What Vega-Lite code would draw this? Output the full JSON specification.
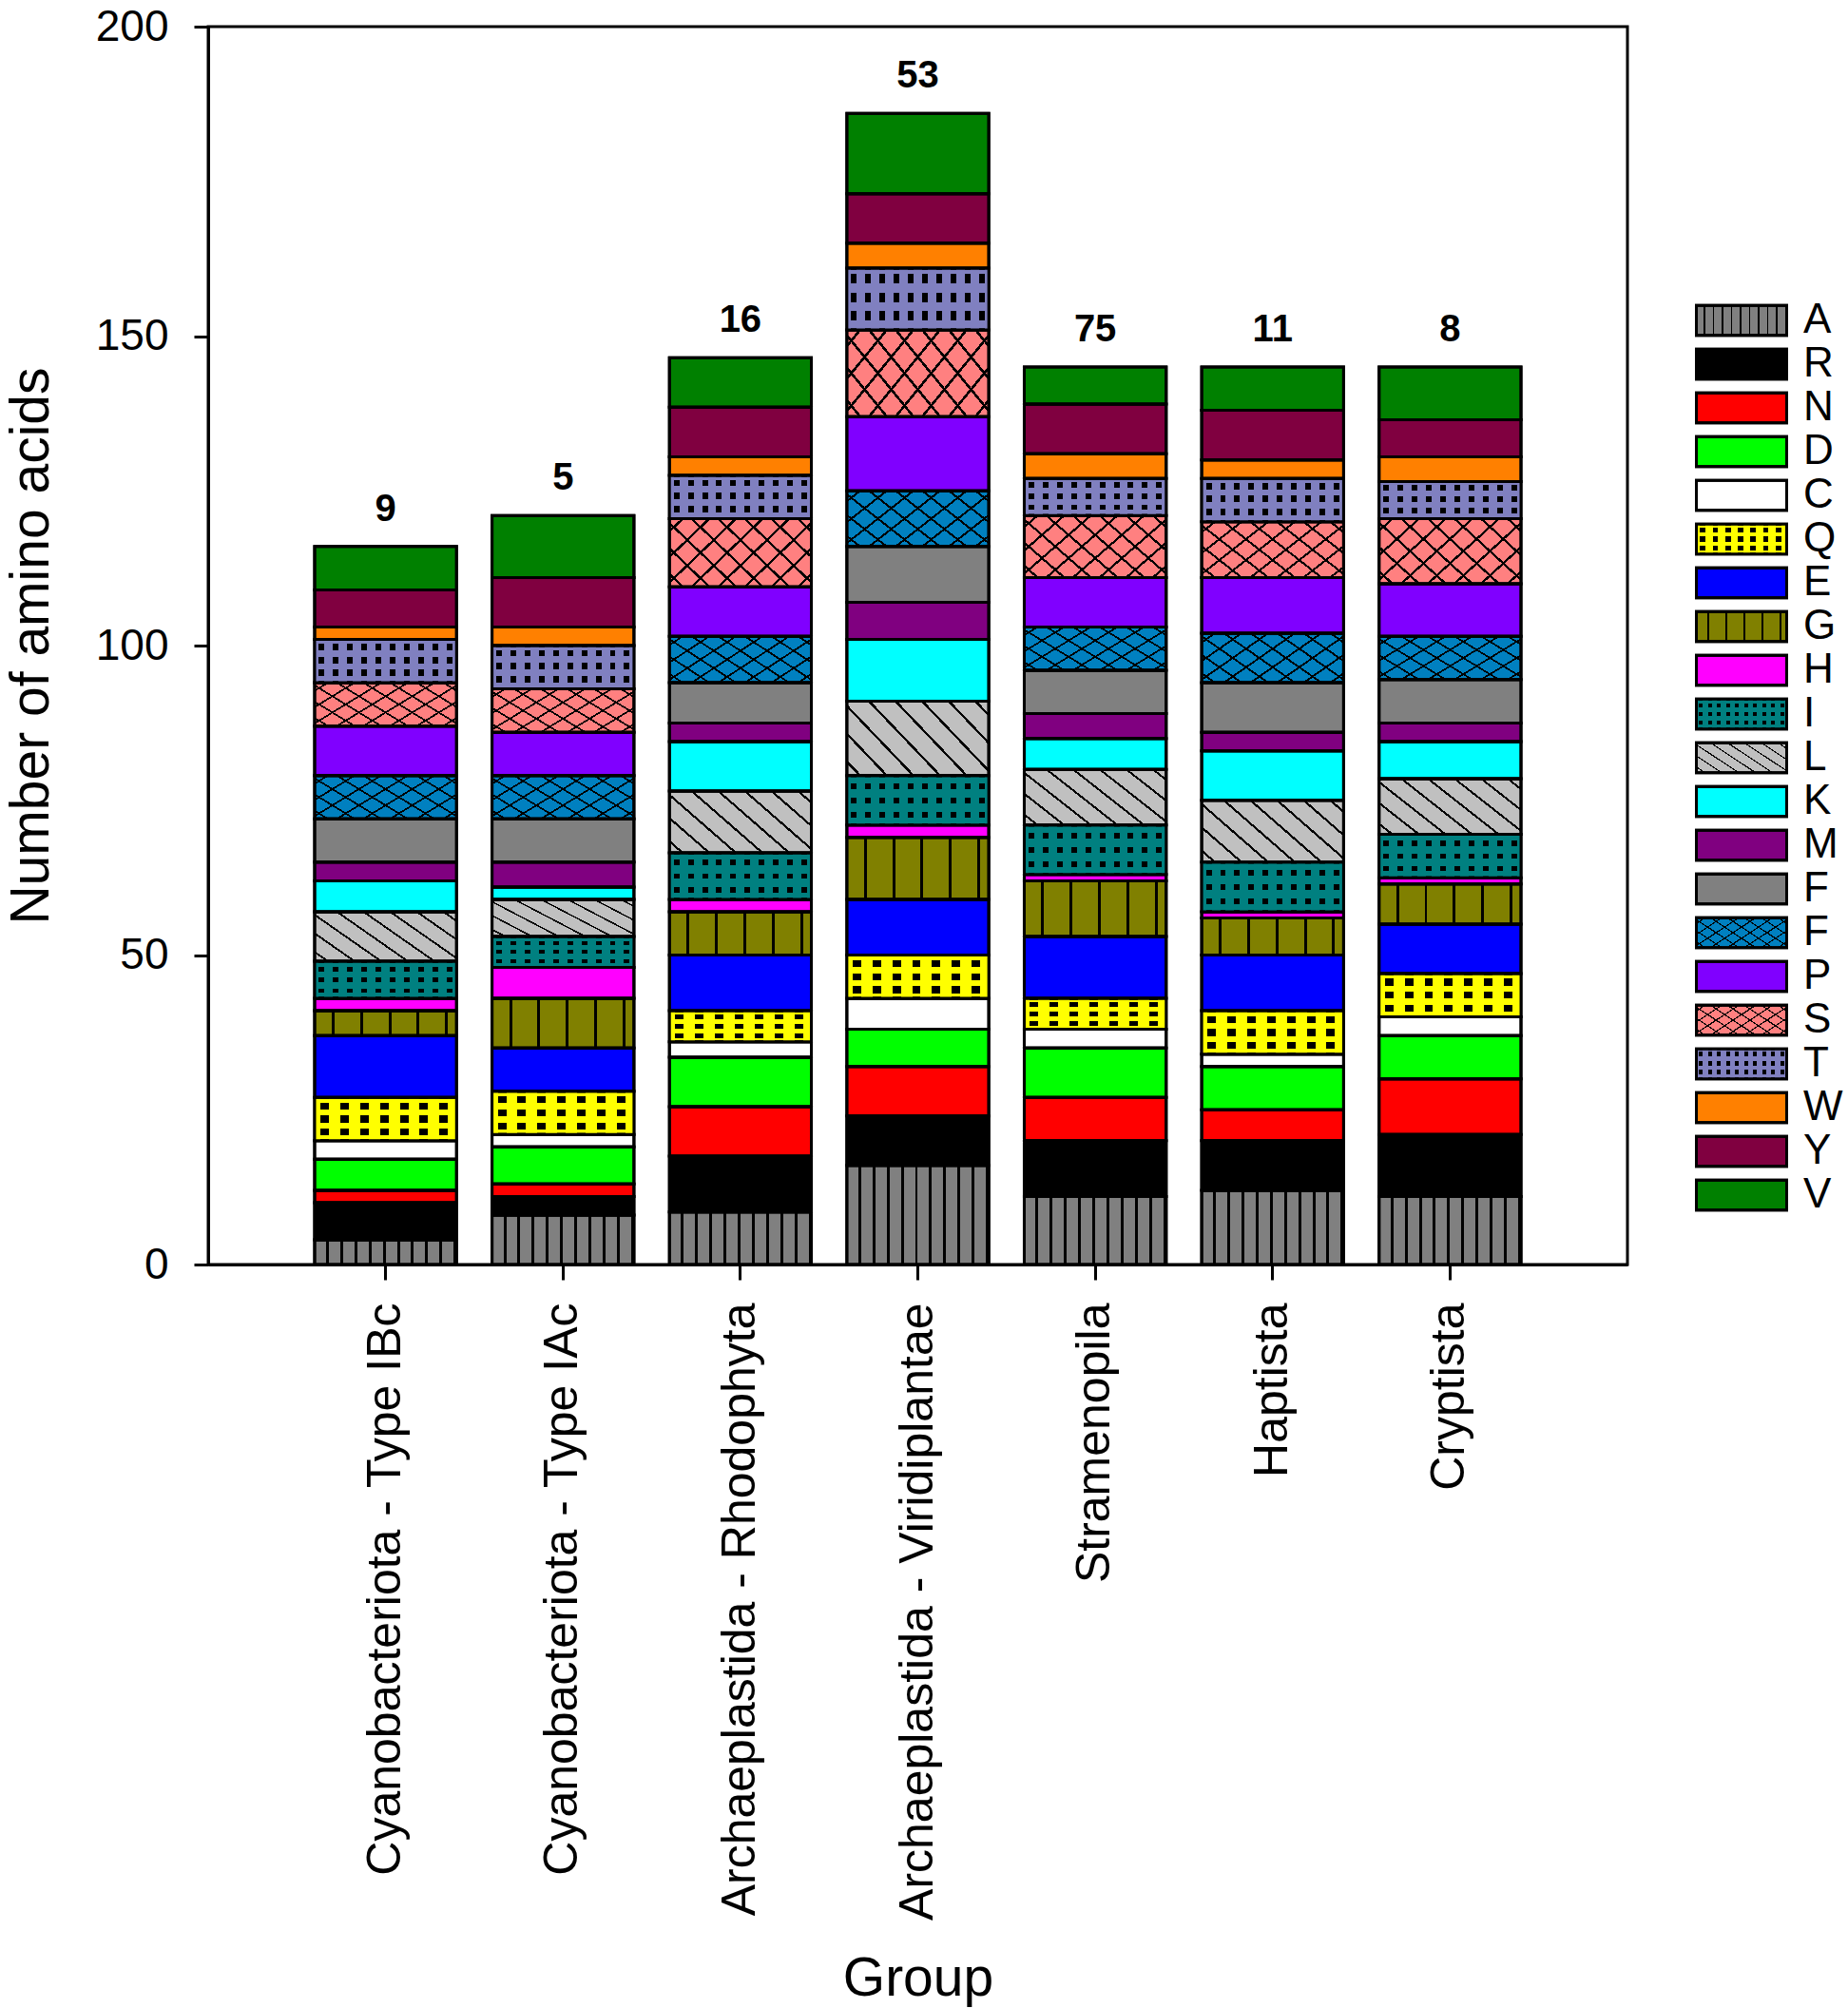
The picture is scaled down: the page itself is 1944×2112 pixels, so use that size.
{
  "$schema": "https://vega.github.io/schema/vega-lite/v6.json",
  "width": 1493,
  "height": 1302,
  "autosize": {"type": "none"},
  "padding": {"left": 219, "top": 28, "right": 232, "bottom": 782},
  "background": "white",
  "config": {
    "view": {"stroke": "black", "strokeWidth": 3},
    "font": "Liberation Sans",
    "axis": {
      "domainColor": "black", "domainWidth": 3, "tickColor": "black", "tickWidth": 3,
      "grid": false, "labelFont": "Liberation Sans", "titleFont": "Liberation Sans",
      "labelColor": "black", "titleColor": "black", "titleFontWeight": "normal"
    },
    "legend": {
      "orient": "none", "legendX": 1564, "legendY": 286, "padding": 0,
      "symbolType": "M-1,-0.33H1V0.33H-1Z", "symbolSize": 9025,
      "symbolStrokeColor": "black", "symbolStrokeWidth": 3,
      "labelFont": "Liberation Sans", "labelFontSize": 44, "labelOffset": 16,
      "clipHeight": 46, "rowPadding": 0
    }
  },
  "datasets": {
    "residues": [
      {"aa": "A", "rank": 1}, {"aa": "R", "rank": 2}, {"aa": "N", "rank": 3}, {"aa": "D", "rank": 4},
      {"aa": "C", "rank": 5}, {"aa": "Q", "rank": 6}, {"aa": "E", "rank": 7}, {"aa": "G", "rank": 8},
      {"aa": "H", "rank": 9}, {"aa": "I", "rank": 10}, {"aa": "L", "rank": 11}, {"aa": "K", "rank": 12},
      {"aa": "M", "rank": 13}, {"aa": "F", "rank": 14}, {"aa": "Fb", "rank": 15}, {"aa": "P", "rank": 16},
      {"aa": "S", "rank": 17}, {"aa": "T", "rank": 18}, {"aa": "W", "rank": 19}, {"aa": "Y", "rank": 20},
      {"aa": "V", "rank": 21}
    ],
    "counts": [
      {"group": "Cyanobacteriota - Type IBc", "aa": "A", "n": 4},
      {"group": "Cyanobacteriota - Type IBc", "aa": "R", "n": 6},
      {"group": "Cyanobacteriota - Type IBc", "aa": "N", "n": 2},
      {"group": "Cyanobacteriota - Type IBc", "aa": "D", "n": 5},
      {"group": "Cyanobacteriota - Type IBc", "aa": "C", "n": 3},
      {"group": "Cyanobacteriota - Type IBc", "aa": "Q", "n": 7},
      {"group": "Cyanobacteriota - Type IBc", "aa": "E", "n": 10},
      {"group": "Cyanobacteriota - Type IBc", "aa": "G", "n": 4},
      {"group": "Cyanobacteriota - Type IBc", "aa": "H", "n": 2},
      {"group": "Cyanobacteriota - Type IBc", "aa": "I", "n": 6},
      {"group": "Cyanobacteriota - Type IBc", "aa": "L", "n": 8},
      {"group": "Cyanobacteriota - Type IBc", "aa": "K", "n": 5},
      {"group": "Cyanobacteriota - Type IBc", "aa": "M", "n": 3},
      {"group": "Cyanobacteriota - Type IBc", "aa": "F", "n": 7},
      {"group": "Cyanobacteriota - Type IBc", "aa": "Fb", "n": 7},
      {"group": "Cyanobacteriota - Type IBc", "aa": "P", "n": 8},
      {"group": "Cyanobacteriota - Type IBc", "aa": "S", "n": 7},
      {"group": "Cyanobacteriota - Type IBc", "aa": "T", "n": 7},
      {"group": "Cyanobacteriota - Type IBc", "aa": "W", "n": 2},
      {"group": "Cyanobacteriota - Type IBc", "aa": "Y", "n": 6},
      {"group": "Cyanobacteriota - Type IBc", "aa": "V", "n": 7},
      {"group": "Cyanobacteriota - Type IAc", "aa": "A", "n": 8},
      {"group": "Cyanobacteriota - Type IAc", "aa": "R", "n": 3},
      {"group": "Cyanobacteriota - Type IAc", "aa": "N", "n": 2},
      {"group": "Cyanobacteriota - Type IAc", "aa": "D", "n": 6},
      {"group": "Cyanobacteriota - Type IAc", "aa": "C", "n": 2},
      {"group": "Cyanobacteriota - Type IAc", "aa": "Q", "n": 7},
      {"group": "Cyanobacteriota - Type IAc", "aa": "E", "n": 7},
      {"group": "Cyanobacteriota - Type IAc", "aa": "G", "n": 8},
      {"group": "Cyanobacteriota - Type IAc", "aa": "H", "n": 5},
      {"group": "Cyanobacteriota - Type IAc", "aa": "I", "n": 5},
      {"group": "Cyanobacteriota - Type IAc", "aa": "L", "n": 6},
      {"group": "Cyanobacteriota - Type IAc", "aa": "K", "n": 2},
      {"group": "Cyanobacteriota - Type IAc", "aa": "M", "n": 4},
      {"group": "Cyanobacteriota - Type IAc", "aa": "F", "n": 7},
      {"group": "Cyanobacteriota - Type IAc", "aa": "Fb", "n": 7},
      {"group": "Cyanobacteriota - Type IAc", "aa": "P", "n": 7},
      {"group": "Cyanobacteriota - Type IAc", "aa": "S", "n": 7},
      {"group": "Cyanobacteriota - Type IAc", "aa": "T", "n": 7},
      {"group": "Cyanobacteriota - Type IAc", "aa": "W", "n": 3},
      {"group": "Cyanobacteriota - Type IAc", "aa": "Y", "n": 8},
      {"group": "Cyanobacteriota - Type IAc", "aa": "V", "n": 10},
      {"group": "Archaeplastida - Rhodophyta", "aa": "A", "n": 8.5},
      {"group": "Archaeplastida - Rhodophyta", "aa": "R", "n": 9},
      {"group": "Archaeplastida - Rhodophyta", "aa": "N", "n": 8},
      {"group": "Archaeplastida - Rhodophyta", "aa": "D", "n": 8},
      {"group": "Archaeplastida - Rhodophyta", "aa": "C", "n": 2.5},
      {"group": "Archaeplastida - Rhodophyta", "aa": "Q", "n": 5},
      {"group": "Archaeplastida - Rhodophyta", "aa": "E", "n": 9},
      {"group": "Archaeplastida - Rhodophyta", "aa": "G", "n": 7},
      {"group": "Archaeplastida - Rhodophyta", "aa": "H", "n": 2},
      {"group": "Archaeplastida - Rhodophyta", "aa": "I", "n": 7.5},
      {"group": "Archaeplastida - Rhodophyta", "aa": "L", "n": 10},
      {"group": "Archaeplastida - Rhodophyta", "aa": "K", "n": 8},
      {"group": "Archaeplastida - Rhodophyta", "aa": "M", "n": 3},
      {"group": "Archaeplastida - Rhodophyta", "aa": "F", "n": 6.5},
      {"group": "Archaeplastida - Rhodophyta", "aa": "Fb", "n": 7.5},
      {"group": "Archaeplastida - Rhodophyta", "aa": "P", "n": 8},
      {"group": "Archaeplastida - Rhodophyta", "aa": "S", "n": 11},
      {"group": "Archaeplastida - Rhodophyta", "aa": "T", "n": 7},
      {"group": "Archaeplastida - Rhodophyta", "aa": "W", "n": 3},
      {"group": "Archaeplastida - Rhodophyta", "aa": "Y", "n": 8},
      {"group": "Archaeplastida - Rhodophyta", "aa": "V", "n": 8},
      {"group": "Archaeplastida - Viridiplantae", "aa": "A", "n": 16},
      {"group": "Archaeplastida - Viridiplantae", "aa": "R", "n": 8},
      {"group": "Archaeplastida - Viridiplantae", "aa": "N", "n": 8},
      {"group": "Archaeplastida - Viridiplantae", "aa": "D", "n": 6},
      {"group": "Archaeplastida - Viridiplantae", "aa": "C", "n": 5},
      {"group": "Archaeplastida - Viridiplantae", "aa": "Q", "n": 7},
      {"group": "Archaeplastida - Viridiplantae", "aa": "E", "n": 9},
      {"group": "Archaeplastida - Viridiplantae", "aa": "G", "n": 10},
      {"group": "Archaeplastida - Viridiplantae", "aa": "H", "n": 2},
      {"group": "Archaeplastida - Viridiplantae", "aa": "I", "n": 8},
      {"group": "Archaeplastida - Viridiplantae", "aa": "L", "n": 12},
      {"group": "Archaeplastida - Viridiplantae", "aa": "K", "n": 10},
      {"group": "Archaeplastida - Viridiplantae", "aa": "M", "n": 6},
      {"group": "Archaeplastida - Viridiplantae", "aa": "F", "n": 9},
      {"group": "Archaeplastida - Viridiplantae", "aa": "Fb", "n": 9},
      {"group": "Archaeplastida - Viridiplantae", "aa": "P", "n": 12},
      {"group": "Archaeplastida - Viridiplantae", "aa": "S", "n": 14},
      {"group": "Archaeplastida - Viridiplantae", "aa": "T", "n": 10},
      {"group": "Archaeplastida - Viridiplantae", "aa": "W", "n": 4},
      {"group": "Archaeplastida - Viridiplantae", "aa": "Y", "n": 8},
      {"group": "Archaeplastida - Viridiplantae", "aa": "V", "n": 13},
      {"group": "Stramenopila", "aa": "A", "n": 11},
      {"group": "Stramenopila", "aa": "R", "n": 9},
      {"group": "Stramenopila", "aa": "N", "n": 7},
      {"group": "Stramenopila", "aa": "D", "n": 8},
      {"group": "Stramenopila", "aa": "C", "n": 3},
      {"group": "Stramenopila", "aa": "Q", "n": 5},
      {"group": "Stramenopila", "aa": "E", "n": 10},
      {"group": "Stramenopila", "aa": "G", "n": 9},
      {"group": "Stramenopila", "aa": "H", "n": 1},
      {"group": "Stramenopila", "aa": "I", "n": 8},
      {"group": "Stramenopila", "aa": "L", "n": 9},
      {"group": "Stramenopila", "aa": "K", "n": 5},
      {"group": "Stramenopila", "aa": "M", "n": 4},
      {"group": "Stramenopila", "aa": "F", "n": 7},
      {"group": "Stramenopila", "aa": "Fb", "n": 7},
      {"group": "Stramenopila", "aa": "P", "n": 8},
      {"group": "Stramenopila", "aa": "S", "n": 10},
      {"group": "Stramenopila", "aa": "T", "n": 6},
      {"group": "Stramenopila", "aa": "W", "n": 4},
      {"group": "Stramenopila", "aa": "Y", "n": 8},
      {"group": "Stramenopila", "aa": "V", "n": 6},
      {"group": "Haptista", "aa": "A", "n": 12},
      {"group": "Haptista", "aa": "R", "n": 8},
      {"group": "Haptista", "aa": "N", "n": 5},
      {"group": "Haptista", "aa": "D", "n": 7},
      {"group": "Haptista", "aa": "C", "n": 2},
      {"group": "Haptista", "aa": "Q", "n": 7},
      {"group": "Haptista", "aa": "E", "n": 9},
      {"group": "Haptista", "aa": "G", "n": 6},
      {"group": "Haptista", "aa": "H", "n": 1},
      {"group": "Haptista", "aa": "I", "n": 8},
      {"group": "Haptista", "aa": "L", "n": 10},
      {"group": "Haptista", "aa": "K", "n": 8},
      {"group": "Haptista", "aa": "M", "n": 3},
      {"group": "Haptista", "aa": "F", "n": 8},
      {"group": "Haptista", "aa": "Fb", "n": 8},
      {"group": "Haptista", "aa": "P", "n": 9},
      {"group": "Haptista", "aa": "S", "n": 9},
      {"group": "Haptista", "aa": "T", "n": 7},
      {"group": "Haptista", "aa": "W", "n": 3},
      {"group": "Haptista", "aa": "Y", "n": 8},
      {"group": "Haptista", "aa": "V", "n": 7},
      {"group": "Cryptista", "aa": "A", "n": 11},
      {"group": "Cryptista", "aa": "R", "n": 10},
      {"group": "Cryptista", "aa": "N", "n": 9},
      {"group": "Cryptista", "aa": "D", "n": 7},
      {"group": "Cryptista", "aa": "C", "n": 3},
      {"group": "Cryptista", "aa": "Q", "n": 7},
      {"group": "Cryptista", "aa": "E", "n": 8},
      {"group": "Cryptista", "aa": "G", "n": 6.5},
      {"group": "Cryptista", "aa": "H", "n": 1},
      {"group": "Cryptista", "aa": "I", "n": 7},
      {"group": "Cryptista", "aa": "L", "n": 9},
      {"group": "Cryptista", "aa": "K", "n": 6},
      {"group": "Cryptista", "aa": "M", "n": 3},
      {"group": "Cryptista", "aa": "F", "n": 7},
      {"group": "Cryptista", "aa": "Fb", "n": 7},
      {"group": "Cryptista", "aa": "P", "n": 8.5},
      {"group": "Cryptista", "aa": "S", "n": 10.5},
      {"group": "Cryptista", "aa": "T", "n": 6},
      {"group": "Cryptista", "aa": "W", "n": 4},
      {"group": "Cryptista", "aa": "Y", "n": 6},
      {"group": "Cryptista", "aa": "V", "n": 8.5}
    ]
  },
  "layer": [
    {
      "data": {"name": "counts"},
      "transform": [{"lookup": "aa", "from": {"data": {"name": "residues"}, "key": "aa", "fields": ["rank"]}}],
      "mark": {"type": "bar", "stroke": "black", "strokeWidth": 3},
      "encoding": {
        "x": {
          "field": "group", "type": "nominal", "title": "Group",
          "sort": ["Cyanobacteriota - Type IBc", "Cyanobacteriota - Type IAc", "Archaeplastida - Rhodophyta", "Archaeplastida - Viridiplantae", "Stramenopila", "Haptista", "Cryptista"],
          "scale": {"paddingInner": 0.2, "paddingOuter": 0.6},
          "axis": {"labelAngle": -90, "labelFontSize": 50, "labelLimit": 1000, "tickSize": 16, "labelPadding": 24, "titleFontSize": 57, "titleY": 751, "titleBaseline": "middle"}
        },
        "y": {
          "field": "n", "type": "quantitative", "title": "Number of amino acids",
          "scale": {"domain": [0, 200]},
          "axis": {"values": [0, 50, 100, 150, 200], "tickSize": 15, "labelPadding": 27, "labelFontSize": 46, "titleFontSize": 57, "titlePadding": 38}
        },
        "color": {
          "field": "aa", "type": "nominal",
          "scale": {
            "domain": ["A", "R", "N", "D", "C", "Q", "E", "G", "H", "I", "L", "K", "M", "F", "Fb", "P", "S", "T", "W", "Y", "V"],
            "range": [
              {"expr": "{gradient:'linear',x1:0,y1:0,x2:1,y2:0,stops:[{offset:0,color:'#808080'},{offset:0.08,color:'#808080'},{offset:0.08,color:'#000'},{offset:0.1,color:'#000'},{offset:0.1,color:'#808080'},{offset:0.18,color:'#808080'},{offset:0.18,color:'#000'},{offset:0.2,color:'#000'},{offset:0.2,color:'#808080'},{offset:0.28,color:'#808080'},{offset:0.28,color:'#000'},{offset:0.3,color:'#000'},{offset:0.3,color:'#808080'},{offset:0.38,color:'#808080'},{offset:0.38,color:'#000'},{offset:0.4,color:'#000'},{offset:0.4,color:'#808080'},{offset:0.48,color:'#808080'},{offset:0.48,color:'#000'},{offset:0.5,color:'#000'},{offset:0.5,color:'#808080'},{offset:0.58,color:'#808080'},{offset:0.58,color:'#000'},{offset:0.6,color:'#000'},{offset:0.6,color:'#808080'},{offset:0.68,color:'#808080'},{offset:0.68,color:'#000'},{offset:0.7,color:'#000'},{offset:0.7,color:'#808080'},{offset:0.78,color:'#808080'},{offset:0.78,color:'#000'},{offset:0.8,color:'#000'},{offset:0.8,color:'#808080'},{offset:0.88,color:'#808080'},{offset:0.88,color:'#000'},{offset:0.9,color:'#000'},{offset:0.9,color:'#808080'},{offset:0.98,color:'#808080'},{offset:0.98,color:'#000'},{offset:1,color:'#000'}]}"},
              "#000000",
              "#FF0000",
              "#00FF00",
              "#FFFFFF",
              {"expr": "{gradient:'linear',x1:0,y1:0,x2:0,y2:1,stops:[{offset:0,color:'#FFFF00'},{offset:0.12,color:'#FFFF00'},{offset:0.12,color:'#000'},{offset:0.28,color:'#000'},{offset:0.28,color:'#FFFF00'},{offset:0.42,color:'#FFFF00'},{offset:0.42,color:'#000'},{offset:0.58,color:'#000'},{offset:0.58,color:'#FFFF00'},{offset:0.72,color:'#FFFF00'},{offset:0.72,color:'#000'},{offset:0.88,color:'#000'},{offset:0.88,color:'#FFFF00'},{offset:1,color:'#FFFF00'}]}"},
              "#0000FF",
              {"expr": "{gradient:'linear',x1:0,y1:0,x2:1,y2:0,stops:[{offset:0,color:'#808000'},{offset:0.12,color:'#808000'},{offset:0.12,color:'#000'},{offset:0.14,color:'#000'},{offset:0.14,color:'#808000'},{offset:0.32,color:'#808000'},{offset:0.32,color:'#000'},{offset:0.34,color:'#000'},{offset:0.34,color:'#808000'},{offset:0.52,color:'#808000'},{offset:0.52,color:'#000'},{offset:0.54,color:'#000'},{offset:0.54,color:'#808000'},{offset:0.72,color:'#808000'},{offset:0.72,color:'#000'},{offset:0.74,color:'#000'},{offset:0.74,color:'#808000'},{offset:0.92,color:'#808000'},{offset:0.92,color:'#000'},{offset:0.94,color:'#000'},{offset:0.94,color:'#808000'},{offset:1,color:'#808000'}]}"},
              "#FF00FF",
              {"expr": "{gradient:'linear',x1:0,y1:0,x2:0,y2:1,stops:[{offset:0,color:'#008080'},{offset:0.15,color:'#008080'},{offset:0.15,color:'#000'},{offset:0.27,color:'#000'},{offset:0.27,color:'#008080'},{offset:0.44,color:'#008080'},{offset:0.44,color:'#000'},{offset:0.56,color:'#000'},{offset:0.56,color:'#008080'},{offset:0.73,color:'#008080'},{offset:0.73,color:'#000'},{offset:0.85,color:'#000'},{offset:0.85,color:'#008080'},{offset:1,color:'#008080'}]}"},
              {"expr": "{gradient:'linear',x1:0,y1:1,x2:1.2,y2:0.4,stops:[{offset:0,color:'#C0C0C0'},{offset:0.055,color:'#C0C0C0'},{offset:0.055,color:'#000'},{offset:0.07,color:'#000'},{offset:0.07,color:'#C0C0C0'},{offset:0.18,color:'#C0C0C0'},{offset:0.18,color:'#000'},{offset:0.195,color:'#000'},{offset:0.195,color:'#C0C0C0'},{offset:0.305,color:'#C0C0C0'},{offset:0.305,color:'#000'},{offset:0.32,color:'#000'},{offset:0.32,color:'#C0C0C0'},{offset:0.43,color:'#C0C0C0'},{offset:0.43,color:'#000'},{offset:0.445,color:'#000'},{offset:0.445,color:'#C0C0C0'},{offset:0.555,color:'#C0C0C0'},{offset:0.555,color:'#000'},{offset:0.57,color:'#000'},{offset:0.57,color:'#C0C0C0'},{offset:0.68,color:'#C0C0C0'},{offset:0.68,color:'#000'},{offset:0.695,color:'#000'},{offset:0.695,color:'#C0C0C0'},{offset:0.805,color:'#C0C0C0'},{offset:0.805,color:'#000'},{offset:0.82,color:'#000'},{offset:0.82,color:'#C0C0C0'},{offset:0.93,color:'#C0C0C0'},{offset:0.93,color:'#000'},{offset:0.945,color:'#000'},{offset:0.945,color:'#C0C0C0'},{offset:1,color:'#C0C0C0'}]}"},
              "#00FFFF",
              "#800080",
              "#808080",
              {"expr": "{gradient:'linear',x1:0,y1:1,x2:1.2,y2:0.4,stops:[{offset:0,color:'#0080C0'},{offset:0.055,color:'#0080C0'},{offset:0.055,color:'#000'},{offset:0.07,color:'#000'},{offset:0.07,color:'#0080C0'},{offset:0.18,color:'#0080C0'},{offset:0.18,color:'#000'},{offset:0.195,color:'#000'},{offset:0.195,color:'#0080C0'},{offset:0.305,color:'#0080C0'},{offset:0.305,color:'#000'},{offset:0.32,color:'#000'},{offset:0.32,color:'#0080C0'},{offset:0.43,color:'#0080C0'},{offset:0.43,color:'#000'},{offset:0.445,color:'#000'},{offset:0.445,color:'#0080C0'},{offset:0.555,color:'#0080C0'},{offset:0.555,color:'#000'},{offset:0.57,color:'#000'},{offset:0.57,color:'#0080C0'},{offset:0.68,color:'#0080C0'},{offset:0.68,color:'#000'},{offset:0.695,color:'#000'},{offset:0.695,color:'#0080C0'},{offset:0.805,color:'#0080C0'},{offset:0.805,color:'#000'},{offset:0.82,color:'#000'},{offset:0.82,color:'#0080C0'},{offset:0.93,color:'#0080C0'},{offset:0.93,color:'#000'},{offset:0.945,color:'#000'},{offset:0.945,color:'#0080C0'},{offset:1,color:'#0080C0'}]}"},
              "#8000FF",
              {"expr": "{gradient:'linear',x1:0,y1:1,x2:1.2,y2:0.4,stops:[{offset:0,color:'#FF8080'},{offset:0.055,color:'#FF8080'},{offset:0.055,color:'#000'},{offset:0.07,color:'#000'},{offset:0.07,color:'#FF8080'},{offset:0.18,color:'#FF8080'},{offset:0.18,color:'#000'},{offset:0.195,color:'#000'},{offset:0.195,color:'#FF8080'},{offset:0.305,color:'#FF8080'},{offset:0.305,color:'#000'},{offset:0.32,color:'#000'},{offset:0.32,color:'#FF8080'},{offset:0.43,color:'#FF8080'},{offset:0.43,color:'#000'},{offset:0.445,color:'#000'},{offset:0.445,color:'#FF8080'},{offset:0.555,color:'#FF8080'},{offset:0.555,color:'#000'},{offset:0.57,color:'#000'},{offset:0.57,color:'#FF8080'},{offset:0.68,color:'#FF8080'},{offset:0.68,color:'#000'},{offset:0.695,color:'#000'},{offset:0.695,color:'#FF8080'},{offset:0.805,color:'#FF8080'},{offset:0.805,color:'#000'},{offset:0.82,color:'#000'},{offset:0.82,color:'#FF8080'},{offset:0.93,color:'#FF8080'},{offset:0.93,color:'#000'},{offset:0.945,color:'#000'},{offset:0.945,color:'#FF8080'},{offset:1,color:'#FF8080'}]}"},
              {"expr": "{gradient:'linear',x1:0,y1:0,x2:0,y2:1,stops:[{offset:0,color:'#8080C0'},{offset:0.1,color:'#8080C0'},{offset:0.1,color:'#000'},{offset:0.25,color:'#000'},{offset:0.25,color:'#8080C0'},{offset:0.4,color:'#8080C0'},{offset:0.4,color:'#000'},{offset:0.55,color:'#000'},{offset:0.55,color:'#8080C0'},{offset:0.7,color:'#8080C0'},{offset:0.7,color:'#000'},{offset:0.85,color:'#000'},{offset:0.85,color:'#8080C0'},{offset:1,color:'#8080C0'}]}"},
              "#FF8000",
              "#800040",
              "#008000"
            ]
          },
          "legend": {
            "title": null,
            "labelExpr": "datum.label == 'Fb' ? 'F' : datum.label",
            "labelColor": "black",
            "encode": {"symbols": {"update": {"stroke": {"value": "black"}, "strokeWidth": {"value": 3}}}}
          }
        },
        "order": {"field": "rank", "type": "quantitative", "sort": "ascending"}
      }
    },
    {
      "data": {"name": "counts"},
      "transform": [{"lookup": "aa", "from": {"data": {"name": "residues"}, "key": "aa", "fields": ["rank"]}}],
      "mark": {"type": "bar", "stroke": "black", "strokeWidth": 3},
      "encoding": {
        "x": {"field": "group", "type": "nominal", "title": "Group", "sort": ["Cyanobacteriota - Type IBc", "Cyanobacteriota - Type IAc", "Archaeplastida - Rhodophyta", "Archaeplastida - Viridiplantae", "Stramenopila", "Haptista", "Cryptista"]},
        "y": {"field": "n", "type": "quantitative", "title": "Number of amino acids"},
        "color": {
          "field": "aa", "type": "nominal",
          "scale": {
            "domain": ["A", "R", "N", "D", "C", "Q", "E", "G", "H", "I", "L", "K", "M", "F", "Fb", "P", "S", "T", "W", "Y", "V"],
            "range": [
              "transparent", "transparent", "transparent", "transparent", "transparent",
              {"expr": "{gradient:'linear',x1:0,y1:0,x2:1,y2:0,stops:[{offset:0,color:'#FFFF00'},{offset:0.04,color:'#FFFF00'},{offset:0.04,color:'transparent'},{offset:0.1,color:'transparent'},{offset:0.1,color:'#FFFF00'},{offset:0.18,color:'#FFFF00'},{offset:0.18,color:'transparent'},{offset:0.24,color:'transparent'},{offset:0.24,color:'#FFFF00'},{offset:0.32,color:'#FFFF00'},{offset:0.32,color:'transparent'},{offset:0.38,color:'transparent'},{offset:0.38,color:'#FFFF00'},{offset:0.46,color:'#FFFF00'},{offset:0.46,color:'transparent'},{offset:0.52,color:'transparent'},{offset:0.52,color:'#FFFF00'},{offset:0.6,color:'#FFFF00'},{offset:0.6,color:'transparent'},{offset:0.66,color:'transparent'},{offset:0.66,color:'#FFFF00'},{offset:0.74,color:'#FFFF00'},{offset:0.74,color:'transparent'},{offset:0.8,color:'transparent'},{offset:0.8,color:'#FFFF00'},{offset:0.88,color:'#FFFF00'},{offset:0.88,color:'transparent'},{offset:0.94,color:'transparent'},{offset:0.94,color:'#FFFF00'},{offset:1,color:'#FFFF00'}]}"},
              "transparent", "transparent", "transparent",
              {"expr": "{gradient:'linear',x1:0,y1:0,x2:1,y2:0,stops:[{offset:0,color:'#008080'},{offset:0.03,color:'#008080'},{offset:0.03,color:'transparent'},{offset:0.07,color:'transparent'},{offset:0.07,color:'#008080'},{offset:0.13,color:'#008080'},{offset:0.13,color:'transparent'},{offset:0.17,color:'transparent'},{offset:0.17,color:'#008080'},{offset:0.23,color:'#008080'},{offset:0.23,color:'transparent'},{offset:0.27,color:'transparent'},{offset:0.27,color:'#008080'},{offset:0.33,color:'#008080'},{offset:0.33,color:'transparent'},{offset:0.37,color:'transparent'},{offset:0.37,color:'#008080'},{offset:0.43,color:'#008080'},{offset:0.43,color:'transparent'},{offset:0.47,color:'transparent'},{offset:0.47,color:'#008080'},{offset:0.53,color:'#008080'},{offset:0.53,color:'transparent'},{offset:0.57,color:'transparent'},{offset:0.57,color:'#008080'},{offset:0.63,color:'#008080'},{offset:0.63,color:'transparent'},{offset:0.67,color:'transparent'},{offset:0.67,color:'#008080'},{offset:0.73,color:'#008080'},{offset:0.73,color:'transparent'},{offset:0.77,color:'transparent'},{offset:0.77,color:'#008080'},{offset:0.83,color:'#008080'},{offset:0.83,color:'transparent'},{offset:0.87,color:'transparent'},{offset:0.87,color:'#008080'},{offset:0.93,color:'#008080'},{offset:0.93,color:'transparent'},{offset:0.97,color:'transparent'},{offset:0.97,color:'#008080'},{offset:1,color:'#008080'}]}"},
              "transparent", "transparent", "transparent", "transparent",
              {"expr": "{gradient:'linear',x1:0,y1:0,x2:1.2,y2:0.6,stops:[{offset:0,color:'transparent'},{offset:0.055,color:'transparent'},{offset:0.055,color:'#000'},{offset:0.07,color:'#000'},{offset:0.07,color:'transparent'},{offset:0.18,color:'transparent'},{offset:0.18,color:'#000'},{offset:0.195,color:'#000'},{offset:0.195,color:'transparent'},{offset:0.305,color:'transparent'},{offset:0.305,color:'#000'},{offset:0.32,color:'#000'},{offset:0.32,color:'transparent'},{offset:0.43,color:'transparent'},{offset:0.43,color:'#000'},{offset:0.445,color:'#000'},{offset:0.445,color:'transparent'},{offset:0.555,color:'transparent'},{offset:0.555,color:'#000'},{offset:0.57,color:'#000'},{offset:0.57,color:'transparent'},{offset:0.68,color:'transparent'},{offset:0.68,color:'#000'},{offset:0.695,color:'#000'},{offset:0.695,color:'transparent'},{offset:0.805,color:'transparent'},{offset:0.805,color:'#000'},{offset:0.82,color:'#000'},{offset:0.82,color:'transparent'},{offset:0.93,color:'transparent'},{offset:0.93,color:'#000'},{offset:0.945,color:'#000'},{offset:0.945,color:'transparent'},{offset:1,color:'transparent'}]}"},
              "transparent",
              {"expr": "{gradient:'linear',x1:0,y1:0,x2:1.2,y2:0.6,stops:[{offset:0,color:'transparent'},{offset:0.055,color:'transparent'},{offset:0.055,color:'#000'},{offset:0.07,color:'#000'},{offset:0.07,color:'transparent'},{offset:0.18,color:'transparent'},{offset:0.18,color:'#000'},{offset:0.195,color:'#000'},{offset:0.195,color:'transparent'},{offset:0.305,color:'transparent'},{offset:0.305,color:'#000'},{offset:0.32,color:'#000'},{offset:0.32,color:'transparent'},{offset:0.43,color:'transparent'},{offset:0.43,color:'#000'},{offset:0.445,color:'#000'},{offset:0.445,color:'transparent'},{offset:0.555,color:'transparent'},{offset:0.555,color:'#000'},{offset:0.57,color:'#000'},{offset:0.57,color:'transparent'},{offset:0.68,color:'transparent'},{offset:0.68,color:'#000'},{offset:0.695,color:'#000'},{offset:0.695,color:'transparent'},{offset:0.805,color:'transparent'},{offset:0.805,color:'#000'},{offset:0.82,color:'#000'},{offset:0.82,color:'transparent'},{offset:0.93,color:'transparent'},{offset:0.93,color:'#000'},{offset:0.945,color:'#000'},{offset:0.945,color:'transparent'},{offset:1,color:'transparent'}]}"},
              {"expr": "{gradient:'linear',x1:0,y1:0,x2:1,y2:0,stops:[{offset:0,color:'#8080C0'},{offset:0.03,color:'#8080C0'},{offset:0.03,color:'transparent'},{offset:0.07,color:'transparent'},{offset:0.07,color:'#8080C0'},{offset:0.13,color:'#8080C0'},{offset:0.13,color:'transparent'},{offset:0.17,color:'transparent'},{offset:0.17,color:'#8080C0'},{offset:0.23,color:'#8080C0'},{offset:0.23,color:'transparent'},{offset:0.27,color:'transparent'},{offset:0.27,color:'#8080C0'},{offset:0.33,color:'#8080C0'},{offset:0.33,color:'transparent'},{offset:0.37,color:'transparent'},{offset:0.37,color:'#8080C0'},{offset:0.43,color:'#8080C0'},{offset:0.43,color:'transparent'},{offset:0.47,color:'transparent'},{offset:0.47,color:'#8080C0'},{offset:0.53,color:'#8080C0'},{offset:0.53,color:'transparent'},{offset:0.57,color:'transparent'},{offset:0.57,color:'#8080C0'},{offset:0.63,color:'#8080C0'},{offset:0.63,color:'transparent'},{offset:0.67,color:'transparent'},{offset:0.67,color:'#8080C0'},{offset:0.73,color:'#8080C0'},{offset:0.73,color:'transparent'},{offset:0.77,color:'transparent'},{offset:0.77,color:'#8080C0'},{offset:0.83,color:'#8080C0'},{offset:0.83,color:'transparent'},{offset:0.87,color:'transparent'},{offset:0.87,color:'#8080C0'},{offset:0.93,color:'#8080C0'},{offset:0.93,color:'transparent'},{offset:0.97,color:'transparent'},{offset:0.97,color:'#8080C0'},{offset:1,color:'#8080C0'}]}"},
              "transparent", "transparent", "transparent"
            ]
          },
          "legend": {
            "title": null,
            "labelExpr": "''",
            "labelColor": "transparent",
            "encode": {"symbols": {"update": {"stroke": {"value": "black"}, "strokeWidth": {"value": 3}}}}
          }
        },
        "order": {"field": "rank", "type": "quantitative", "sort": "ascending"}
      }
    },
    {
      "data": {
        "values": [
          {"group": "Cyanobacteriota - Type IBc", "total": 116, "label": "9"},
          {"group": "Cyanobacteriota - Type IAc", "total": 121, "label": "5"},
          {"group": "Archaeplastida - Rhodophyta", "total": 146.5, "label": "16"},
          {"group": "Archaeplastida - Viridiplantae", "total": 186, "label": "53"},
          {"group": "Stramenopila", "total": 145, "label": "75"},
          {"group": "Haptista", "total": 145, "label": "11"},
          {"group": "Cryptista", "total": 145, "label": "8"}
        ]
      },
      "mark": {"type": "text", "font": "Liberation Sans", "fontWeight": "bold", "fontSize": 40, "dy": -39, "baseline": "middle", "color": "black"},
      "encoding": {
        "x": {"field": "group", "type": "nominal", "title": "Group", "sort": ["Cyanobacteriota - Type IBc", "Cyanobacteriota - Type IAc", "Archaeplastida - Rhodophyta", "Archaeplastida - Viridiplantae", "Stramenopila", "Haptista", "Cryptista"]},
        "y": {"field": "total", "type": "quantitative", "title": "Number of amino acids"},
        "text": {"field": "label"}
      }
    }
  ],
  "resolve": {"scale": {"color": "independent"}, "legend": {"color": "independent"}}
}
